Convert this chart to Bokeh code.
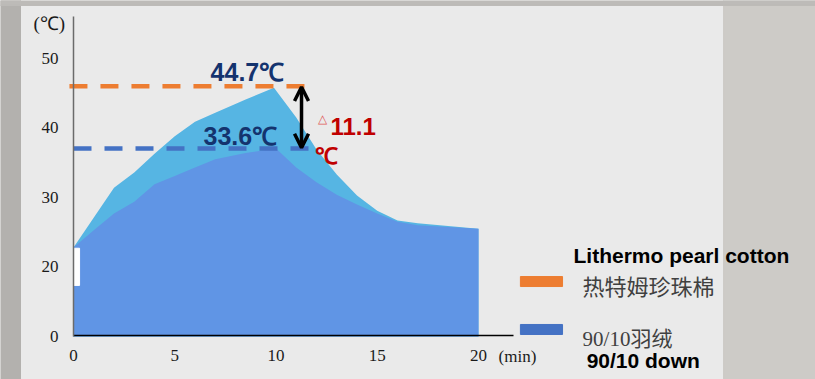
from bokeh.plotting import figure
from bokeh.models import LinearAxis, Label, Arrow, OpenHead, FixedTicker, Range1d
from bokeh.embed import file_html
from bokeh.resources import INLINE

# ---- data (y in the axis's own units) ----
minutes_pearl = [0, 2, 3, 4, 5, 6, 7, 8.5, 9.9, 11, 12, 13, 14, 15, 16, 17, 20]
temp_pearl = [22.8, 31.4, 33.6, 36.3, 38.8, 40.9, 42.2, 44.1, 45.8, 41.5, 36.9, 33.3, 30.3, 28.1, 26.7, 26.3, 25.5]
minutes_down = [0, 1, 2, 3, 4, 5, 6, 7, 8.5, 10, 11, 12, 13, 14, 15, 16, 17, 20]
temp_down = [22.8, 25.3, 27.7, 29.4, 31.9, 33.1, 34.3, 35.5, 36.4, 37.05, 34.3, 32.2, 30.4, 29.0, 27.7, 26.5, 26.0, 25.5]
peak_pearl_level = 46.0
peak_down_level = 37.05
peak_pearl_text = "44.7℃"
peak_down_text = "33.6℃"
diff_text = "11.1"
x_ticks = [0, 5, 10, 15, 20]
y_ticks = [10, 20, 30, 40, 50]
y_tick_labels = ["0", "20", "30", "40", "50"]
series_names = ["热特姆珍珠棉", "90/10羽绒"]
series_names_en = ["Lithermo pearl cotton", "90/10 down"]

PANEL = "#EAEAEA"
LIGHT = "#56B5E3"
MID = "#6095E5"
ORANGE = "#ED7D31"
BLUE = "#4472C4"
NAVY = "#14336E"
RED = "#C00000"
SERIF = "Liberation Serif"
SANS = "Liberation Sans"
CJK = "'Liberation Serif', 'Noto Sans CJK SC'"

p = figure(width=815, height=379, output_backend="svg", toolbar_location=None,
           x_range=Range1d(-3.605, 36.642), y_range=Range1d(3.813, 58.345),
           x_axis_type=None, y_axis_type=None, min_border=0)
p.background_fill_color = PANEL
p.border_fill_color = PANEL
p.outline_line_color = None
p.xgrid.visible = False
p.ygrid.visible = False

# photo background outside the grey panel
p.quad(left=-3.8, right=-2.617, bottom=0, top=60, color="#b3b1ae")
p.quad(left=32.1, right=37, bottom=0, top=60, color="#cdcbc7")
p.quad(left=-3.8, right=37, bottom=57.63, top=60, color="#bdbbb8")

# areas
p.varea(x=minutes_pearl, y1=10, y2=temp_pearl, color=LIGHT)
p.varea(x=minutes_down, y1=10, y2=temp_down, color=MID)
p.quad(left=0, right=0.3, bottom=17.35, top=22.7, color="white")

# dashed level lines
p.line(x=[-0.2, 11.85], y=[peak_pearl_level] * 2, line_color=ORANGE, line_width=4.5, line_dash="18 13")
p.line(x=[0, 12.1], y=[peak_down_level] * 2, line_color=BLUE, line_width=4.5, line_dash="18 13")

# double arrow
p.add_layout(Arrow(x_start=11.26, y_start=peak_down_level + 0.1, x_end=11.26, y_end=peak_pearl_level - 0.1,
                   start=OpenHead(size=14, line_width=3.5, line_color="black"),
                   end=OpenHead(size=14, line_width=3.5, line_color="black"),
                   line_width=3.5, line_color="black"))

# axes
yax = LinearAxis(fixed_location=0, ticker=FixedTicker(ticks=y_ticks),
                 major_label_overrides={t: l for t, l in zip(y_ticks, y_tick_labels)})
yax.bounds = (10, 56.04)
yax.axis_line_color = "#6b6b6b"
yax.axis_line_width = 1.5
yax.major_tick_line_color = None
yax.minor_tick_line_color = None
yax.major_label_standoff = 9
yax.major_label_text_font = SERIF
yax.major_label_text_font_size = "17px"
yax.major_label_text_color = "#1a1a1a"
p.add_layout(yax, "left")

xax = LinearAxis(fixed_location=10.1, ticker=FixedTicker(ticks=x_ticks))
xax.bounds = (0, 21.73)
xax.axis_line_color = "black"
xax.axis_line_width = 1.5
xax.major_tick_line_color = None
xax.minor_tick_line_color = None
xax.major_label_standoff = 8
xax.major_label_text_font = SERIF
xax.major_label_text_font_size = "17px"
xax.major_label_text_color = "#1a1a1a"
p.add_layout(xax, "below")

def lab(x, y, text, size, color, font=SANS, style="normal", baseline="alphabetic", align="left"):
    p.add_layout(Label(x=x, y=y, text=text, text_font=font, text_font_size=size,
                       text_color=color, text_font_style=style, text_baseline=baseline,
                       text_align=align))

# axis unit labels
lab(-1.98, 55.0, "(℃)", "19px", "#1a1a1a", font=SERIF)
lab(20.99, 7.1, "(min)", "17px", "#1a1a1a", font=SERIF)

# annotations
lab(6.77, 47.99, peak_pearl_text, "25px", NAVY, style="bold")
lab(6.42, 38.92, peak_down_text, "25px", NAVY, style="bold")
lab(12.05, 41.3, "△", "12px", "#E05A5A")
lab(12.69, 40.2, diff_text, "24px", RED, style="bold")
lab(11.95, 36.04, "℃", "23px", RED, style="bold")

# legend (drawn by hand)
p.quad(left=22.07, right=24.15, bottom=17.19, top=18.63, color=ORANGE)
p.quad(left=22.07, right=24.15, bottom=10.29, top=11.73, color=BLUE)
lab(24.69, 21.65, series_names_en[0], "21px", "black", style="bold", baseline="middle")
lab(25.14, 17.05, series_names[0], "22px", "#404040", font=CJK, baseline="middle")
lab(25.14, 9.57, series_names[1], "21px", "#404040", font=CJK, baseline="middle")
lab(25.34, 6.55, series_names_en[1], "21px", "black", style="bold", baseline="middle")

open("out.html", "w").write(file_html(p, INLINE))
